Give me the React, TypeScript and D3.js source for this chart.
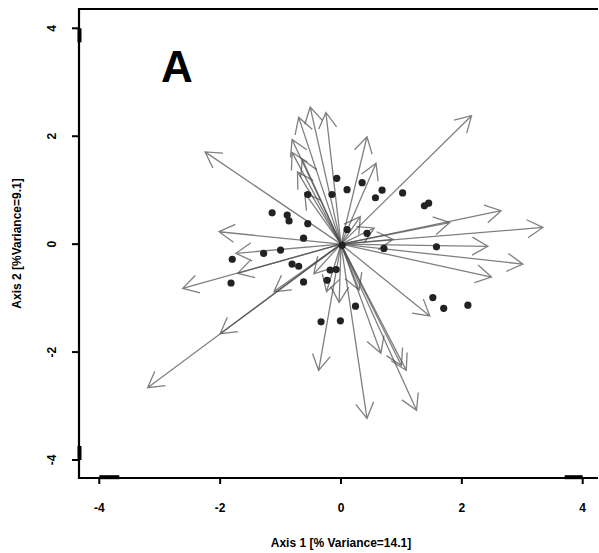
import React from "react";
import * as d3 from "d3";

const xTicks = [-4, -2, 0, 2, 4];
const yTicks = [-4, -2, 0, 2, 4];

// Arrow end points (axis 1, axis 2)
const arrowX = [2.16, 2.65, 3.34, 1.80, 2.43, 3.01, 2.49, 0.32, 0.86,
  1.47, 1.25, 1.08, 1.00, 0.66, 0.43,
  -0.37, -0.03, -0.24,
  -3.20, -2.00, -1.11, -2.62, -2.02, -1.71, -1.74, -2.25,
  -0.51, -0.70, -0.25, -0.81, -0.81, -0.64, -0.72, 0.43, 0.58,
  -0.60, 0.55, -0.45, 0.30];
const arrowY = [2.38, 0.62, 0.31, 0.40, -0.04, -0.37, -0.61, 0.51, 0.09,
  -1.33, -3.08, -2.34, -2.25, -2.02, -3.23,
  -2.34, -1.08, -0.88,
  -2.66, -1.66, -0.88, -0.82, 0.23, -0.54, -0.17, 1.71,
  2.54, 2.35, 2.44, 1.94, 1.70, 1.57, 1.34, 1.99, 1.50,
  0.95, 0.30, -0.55, -0.85];

// Sample scores
const pointX = [-0.07, 0.10, 0.35, 0.68, 0.57, 1.02, 1.38, 1.45, -0.55, -0.15,
  -1.14, -0.89, -0.86, -0.55, -0.62, -1.00, 0.10, 0.43, 0.71, 1.58,
  -0.81, -0.70, -0.18, -0.08, -0.23, -0.62, 0.24, -0.33, -0.01, 1.52,
  1.70, 2.10, -1.80, -1.82, -1.28, 0.02];
const pointY = [1.22, 1.01, 1.14, 1.00, 0.86, 0.95, 0.71, 0.76, 0.92, 0.92,
  0.58, 0.54, 0.43, 0.38, 0.11, -0.11, 0.27, 0.20, -0.08, -0.05,
  -0.37, -0.41, -0.48, -0.47, -0.67, -0.70, -1.15, -1.44, -1.42, -0.99,
  -1.19, -1.13, -0.28, -0.72, -0.17, -0.02];

export default function App() {
  const W = 599, H = 553;
  const x = d3.scaleLinear().domain([-4, 4]).range([99.3, 582.7]);
  const y = d3.scaleLinear().domain([-4, 4]).range([460, 28.3]);
  const left = 79, top = 9, bottom = 478, right = 598;
  const font = "Liberation Sans, Arial, sans-serif";
  const headLen = 18, headAng = Math.PI / 6;

  const arrows = arrowX.map((ax, i) => {
    const x0 = x(0), y0 = y(0), x1 = x(ax), y1 = y(arrowY[i]);
    const a = Math.atan2(y1 - y0, x1 - x0);
    const b1x = x1 - headLen * Math.cos(a - headAng);
    const b1y = y1 - headLen * Math.sin(a - headAng);
    const b2x = x1 - headLen * Math.cos(a + headAng);
    const b2y = y1 - headLen * Math.sin(a + headAng);
    const p = d3.path();
    p.moveTo(x0, y0); p.lineTo(x1, y1);
    p.moveTo(b1x, b1y); p.lineTo(x1, y1); p.lineTo(b2x, b2y);
    return p.toString();
  });

  return (
    <svg width={W} height={H} style={{ position: "absolute", left: 0, top: 0 }}>
      <rect x={0} y={0} width={W} height={H} fill="#fff" />
      {/* frame */}
      <path d={`M${right},${top}H${left}V${bottom}H${right}`} fill="none" stroke="#000" strokeWidth={2.2} />
      {/* thick axis segments */}
      <line x1={left + 0.5} x2={left + 0.5} y1={y(4)} y2={y(4) + 14} stroke="#000" strokeWidth={4} />
      <line x1={left + 0.5} x2={left + 0.5} y1={y(-4) - 14} y2={y(-4)} stroke="#000" strokeWidth={4} />
      <line x1={x(-4)} x2={x(-4) + 20} y1={bottom - 0.8} y2={bottom - 0.8} stroke="#000" strokeWidth={4} />
      <line x1={x(4) - 18} x2={x(4)} y1={bottom - 0.8} y2={bottom - 0.8} stroke="#000" strokeWidth={4} />
      {xTicks.map(t => (
        <g key={"xt" + t}>
          <line x1={x(t)} x2={x(t)} y1={bottom} y2={bottom + 6} stroke="#000" strokeWidth={2} />
          <text x={x(t)} y={512} textAnchor="middle" fontFamily={font} fontWeight="bold" fontSize={12}>{t}</text>
        </g>
      ))}
      {yTicks.map(t => (
        <g key={"yt" + t}>
          <line x1={left} x2={left - 7} y1={y(t)} y2={y(t)} stroke="#000" strokeWidth={2} />
          <text transform={`translate(56,${y(t)}) rotate(-90)`} textAnchor="middle" fontFamily={font} fontWeight="bold" fontSize={12}>{t}</text>
        </g>
      ))}
      <text x={341} y={547} textAnchor="middle" fontFamily={font} fontWeight="bold" fontSize={12}>Axis 1 [% Variance=14.1]</text>
      <text transform="translate(21,243.5) rotate(-90)" textAnchor="middle" fontFamily={font} fontWeight="bold" fontSize={12}>Axis 2 [%Variance=9.1]</text>
      <text x={161} y={82} fontFamily={font} fontWeight="bold" fontSize={44}>A</text>
      {arrows.map((d, i) => (
        <path key={"a" + i} d={d} fill="none" stroke="#4a4a4a" strokeOpacity={0.7} strokeWidth={1.3} />
      ))}
      {pointX.map((px, i) => (
        <circle key={"p" + i} cx={x(px)} cy={y(pointY[i])} r={3.6} fill="#222" />
      ))}
    </svg>
  );
}
